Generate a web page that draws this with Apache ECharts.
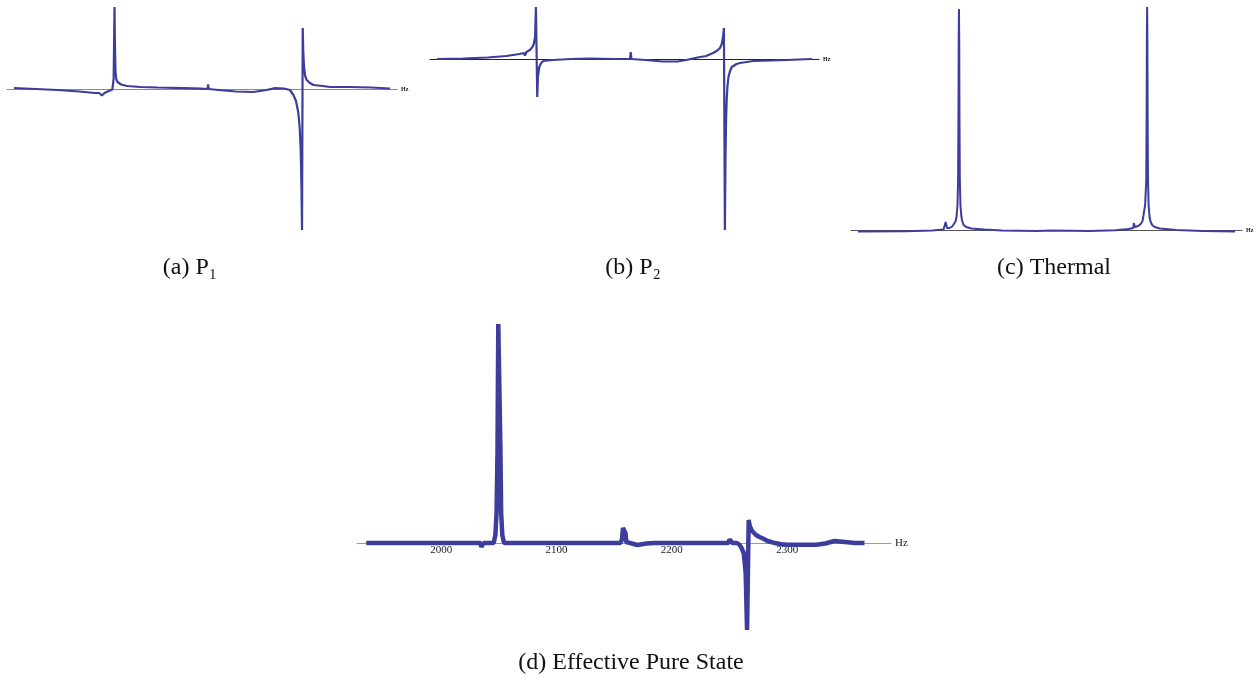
<!DOCTYPE html>
<html>
<head>
<meta charset="utf-8">
<script src="https://cdn.jsdelivr.net/npm/echarts@6/dist/echarts.min.js"></script>
<style>
html,body{margin:0;padding:0;background:#fff;}
#c{width:1260px;height:685px;}
</style>
</head>
<body>
<div id="c"></div>
<script>
// ---- data (frequency in Hz, intensity in arbitrary units) ----
const p1Hz  = [1935,1960,1985,2010,2028,2033,2036,2039,2044,2048,2049.5,2050,2050.5,2051,2051.6,2052.5,2054,2058,2065,2080,2100,2130,2150,2157.3,2158,2158.7,2170,2190,2210,2225,2235,2245,2252,2256,2259,2261.7,2263.3,2264.4,2265.3,2265.9,2266.7,2267.3,2268.2,2269.5,2271.3,2275,2279,2290,2298,2320,2345,2367];
const p1Amp = [1,0,-1,-2.5,-4,-4,-6.5,-4,-2,-0.5,10,45,82,45,18,10,7,4.5,3,2,1.5,0.8,0.3,0,4.5,0,-1,-2.5,-3,-1,0.8,0.5,-1,-6,-12,-24,-40,-61,-100,-141,61,38,22,13,9,6,4,3,2,2,1.5,0.5];

const p2Hz  = [1935,1965,1993,2015,2030,2035,2036.4,2038,2042,2045,2046.5,2048,2049,2050.5,2051.3,2052.8,2055,2057.5,2068,2090,2110,2140,2157.3,2158.2,2159,2175,2195,2212,2222,2235,2245,2253,2258,2261,2263,2264.3,2265.5,2266.6,2267.3,2268,2268.7,2269.5,2270.7,2272.5,2274.6,2280,2284,2299.5,2320,2338,2367];
const p2Amp = [0,0.5,1.5,3,5,6,3.5,7,9,12,15,22,52,-38,-18,-8,-4,-2,-1,0,0.5,0,0,7,0,-1,-2.5,-2.5,-1,1.5,3,6,8.5,11,15,21,31,-171,-100,-60,-41,-28,-18,-12,-8,-5,-4,-2,-1.5,-1,0];

const thHz  = [1935,1990,2020,2033,2035,2035.5,2036.3,2037,2040,2043,2045,2047,2048,2049,2049.7,2050.1,2050.4,2050.7,2051,2051.3,2051.7,2052.4,2053.4,2054.4,2056,2059,2065,2080,2100,2140,2157.5,2158.2,2159,2200,2230,2245,2250.5,2251,2251.8,2252.3,2256,2259,2261,2262,2264,2265.3,2265.7,2266,2266.3,2266.6,2266.9,2267.3,2268,2269,2270,2272,2275,2281,2300,2330,2367];
const thAmp = [-1.5,-1.2,-0.5,0.5,1,8,8,2,2,3.5,5,9,14,25,50,110,190,221,190,110,50,25,14,9,5,3,1.5,0.5,-0.5,-1,-0.5,1,-0.5,-1,-0.3,1,2,7,7,3,4,6,9,14,25,50,110,190,223,190,110,50,25,14,9,5,3,1.5,0,-1,-1.5];

const epsHz  = [1935,1970,2000,2034,2034.8,2036,2036.8,2040,2045.5,2047,2048,2048.8,2049.5,2050.8,2051.4,2052,2053,2054.5,2070,2100,2130,2155.5,2156.8,2157.6,2158.8,2159.8,2160.5,2162,2170,2178,2185,2210,2240,2249,2250,2251.5,2252.5,2256,2258,2260,2262.3,2264,2265.2,2266,2266.6,2267.5,2269.5,2273,2276,2279,2283,2288,2295,2300,2325,2333,2341,2350,2359,2367];
const epsAmp = [0,0,0,0,-4,-4,0,0,0,8,30,90,219,219,90,30,8,0,0,0,0,0,4,15,13,10,1,-1,-2,-0.5,0,0,0,0,3.5,3.5,0,0,-1,-4,-10,-30,-87,-87,23,17,12,8,6,4.5,2,0.3,-1.2,-1.8,-1.8,-0.5,2,1,0,0];

const epsTicks = [2000,2100,2200,2300];
const captions = ['(a) P\u2081','(b) P\u2082','(c) Thermal','(d) Effective Pure State'];

const zip = (xs, ys) => xs.map((x, i) => [x, ys[i]]);
const lineColor = '#3d3d9c';
const serif = "'Liberation Serif','DejaVu Serif',serif";

function xAx(idx, max, axisColor, nameSize) {
  return {
    type: 'value', gridIndex: idx, min: 1927, max: max,
    name: 'Hz', nameLocation: 'end', nameGap: 4,
    nameTextStyle: {fontSize: nameSize, fontFamily: serif, color: '#222', fontWeight: nameSize < 8 ? 'bold' : 'normal'},
    axisLine: {show: true, onZero: true, lineStyle: {color: axisColor, width: 1}},
    axisTick: {show: false},
    splitLine: {show: false},
    axisLabel: {show: false}
  };
}
function yAx(idx, min, max) {
  return {type: 'value', gridIndex: idx, min: min, max: max, show: true,
    axisLine: {show: false}, axisTick: {show: false}, axisLabel: {show: false}, splitLine: {show: false}};
}
function ser(idx, data, w) {
  return {type: 'line', xAxisIndex: idx, yAxisIndex: idx, data: data, showSymbol: false,
    lineStyle: {color: lineColor, width: w}, itemStyle: {color: lineColor}, z: 3};
}
function cap(text, x, y) {
  return {type: 'text', x: x, y: y, style: {text: text, fontSize: 24, fontFamily: serif, fill: '#111',
    align: 'center', textAlign: 'center', verticalAlign: 'middle', textVerticalAlign: 'middle'}};
}

const chart = echarts.init(document.getElementById('c'), null, {renderer: 'canvas'});
chart.setOption({
  animation: false,
  backgroundColor: '#fff',
  grid: [
    {left: 7, top: 0, width: 390, height: 240},
    {left: 430, top: 0, width: 389, height: 240},
    {left: 851, top: 0, width: 391, height: 240},
    {left: 357, top: 310, width: 534, height: 340}
  ],
  xAxis: [
    xAx(0, 2375, '#8a8a8a', 6),
    xAx(1, 2375, '#222', 6),
    xAx(2, 2375, '#555', 6),
    xAx(3, 2390, '#999', 11),
    {
      type: 'value', gridIndex: 3, min: 1927, max: 2390, position: 'bottom', offset: -107,
      axisLine: {show: false}, axisTick: {show: false}, splitLine: {show: false},
      axisLabel: {show: true, customValues: epsTicks, fontSize: 11, fontFamily: serif, color: '#222', margin: 2,
        formatter: v => String(v)}
    }
  ],
  yAxis: [yAx(0, -151, 89), yAx(1, -181, 59), yAx(2, -10, 230), yAx(3, -107, 233)],
  series: [
    ser(0, zip(p1Hz, p1Amp), 2.2),
    ser(1, zip(p2Hz, p2Amp), 2.2),
    ser(2, zip(thHz, thAmp), 2),
    ser(3, zip(epsHz, epsAmp), 4.5)
  ],
  graphic: [
    cap(captions[0], 190, 268),
    cap(captions[1], 633, 268),
    cap(captions[2], 1054, 268),
    cap(captions[3], 631, 663)
  ]
});
</script>
</body>
</html>
